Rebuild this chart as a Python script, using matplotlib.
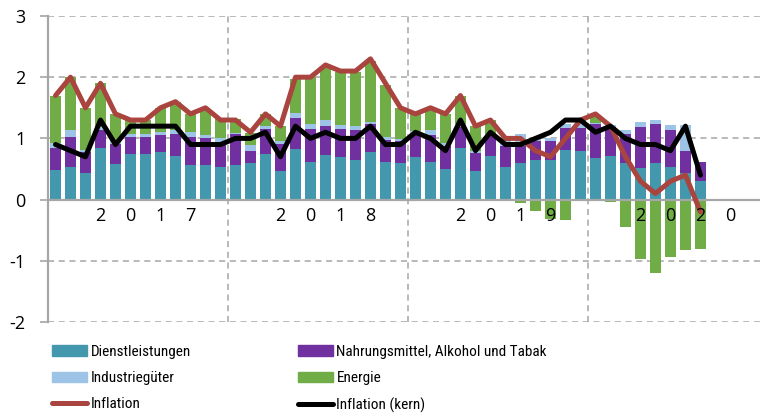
import matplotlib
matplotlib.use("Agg")
import matplotlib.pyplot as plt
from matplotlib.patches import Patch
from matplotlib.lines import Line2D
from matplotlib import font_manager as fm
import numpy as np

years = ["2017", "2018", "2019", "2020"]
services = [0.48,0.54,0.43,0.84,0.58,0.75,0.75,0.77,0.72,0.57,0.57,0.54,
            0.57,0.60,0.75,0.46,0.83,0.62,0.73,0.69,0.64,0.77,0.61,0.60,
            0.69,0.61,0.50,0.85,0.46,0.72,0.53,0.59,0.65,0.65,0.81,0.79,
            0.68,0.72,0.59,0.52,0.59,0.54,0.43,0.31]
food = [0.36,0.49,0.35,0.30,0.33,0.27,0.27,0.28,0.35,0.45,0.43,0.38,
        0.50,0.20,0.41,0.45,0.50,0.53,0.48,0.47,0.50,0.46,0.37,0.36,
        0.38,0.45,0.38,0.33,0.30,0.32,0.35,0.29,0.31,0.31,0.36,0.38,
        0.55,0.46,0.48,0.67,0.64,0.60,0.37,0.31]
goods = [0.09,0.10,0.03,0.05,0.05,0.05,0.06,0.06,0.07,0.09,0.06,0.08,
         0.02,0.09,0.04,0.04,0.09,0.09,0.09,0.06,0.06,0.04,0.04,0.03,
         0.05,0.08,0.04,0.05,0.04,0.04,0.08,0.19,0.03,0.04,0.06,0.11,
         0.02,0.04,0.07,0.07,0.07,0.08,0.42,0.00]
energy = [0.77,0.87,0.69,0.71,0.44,0.23,0.22,0.39,0.45,0.29,0.42,0.32,
          0.23,0.20,0.20,0.25,0.55,0.76,0.86,0.86,0.88,1.00,0.85,0.51,
          0.30,0.36,0.48,0.47,0.40,0.22,0.04,-0.06,-0.19,-0.31,-0.33,0.02,
          0.13,-0.04,-0.45,-0.97,-1.20,-0.93,-0.83,-0.80]
headline = [1.7,2.0,1.5,1.9,1.4,1.3,1.3,1.5,1.6,1.4,1.5,1.3,
            1.3,1.1,1.4,1.2,2.0,2.0,2.2,2.1,2.1,2.3,1.9,1.5,
            1.4,1.5,1.4,1.7,1.2,1.3,1.0,1.0,0.8,0.7,1.0,1.3,
            1.4,1.2,0.7,0.3,0.1,0.3,0.4,-0.2]
core = [0.9,0.8,0.7,1.3,0.9,1.2,1.2,1.2,1.2,0.9,0.9,0.9,
        1.0,1.0,1.1,0.7,1.2,1.0,1.1,1.0,1.0,1.2,0.9,0.9,
        1.1,1.0,0.8,1.3,0.8,1.1,0.9,0.9,1.0,1.1,1.3,1.3,
        1.1,1.2,1.0,0.9,0.9,0.8,1.2,0.4]
labels = ["Dienstleistungen", "Nahrungsmittel, Alkohol und Tabak",
          "Industriegüter", "Energie", "Inflation", "Inflation (kern)"]
yticks = [3, 2, 1, 0, -1, -2]

c_serv = "#4398AE"
c_food = "#7030A0"
c_goods = "#9DC3E6"
c_energy = "#70AD47"
c_infl = "#A9443E"
c_core = "#000000"
grid_c = "#A6A6A6"

# pick a condensed font for the legend if one is installed
def _is_regular(f):
    return f.style == "normal" and str(f.weight) in ("400", "normal", "regular", "book")
cands = [f for f in fm.fontManager.ttflist
         if _is_regular(f) and ("Narrow" in f.name or "Condensed" in f.name
                                or f.stretch in ("condensed", "semi-condensed", "extra-condensed"))]
pref = ["Liberation Sans Narrow", "Roboto Condensed", "Open Sans Condensed", "DejaVu Sans"]
cands.sort(key=lambda f: next((i for i, p in enumerate(pref) if p in f.name), 99))
if cands:
    leg_prop = fm.FontProperties(fname=cands[0].fname, size=11)
else:
    leg_prop = fm.FontProperties(family="Roboto", size=10)

fig = plt.figure(figsize=(7.6, 4.17), dpi=100)
ax = fig.add_axes([48/760, 1-322/417, 1-48/760, (322-16)/417])

n = len(services)
x = np.arange(n)
pos = np.zeros(n)
neg = np.zeros(n)
w = 0.68
for vals, col in [(services, c_serv), (food, c_food), (goods, c_goods), (energy, c_energy)]:
    v = np.array(vals)
    bottoms = np.where(v >= 0, pos, neg)
    ax.bar(x, v, bottom=bottoms, width=w, color=col, zorder=3, linewidth=0)
    pos = pos + np.where(v >= 0, v, 0)
    neg = neg + np.where(v < 0, v, 0)

ax.plot(x, headline, color=c_infl, lw=3.6, zorder=5, solid_joinstyle="round", solid_capstyle="round")
ax.plot(x, core, color=c_core, lw=3.6, zorder=6, solid_joinstyle="round", solid_capstyle="round")

ax.set_xlim(-0.5, 46.97)
ax.set_ylim(-2, 3)
for t in yticks:
    if t == 0:
        ax.axhline(0, color=grid_c, lw=1.6, zorder=4)
    else:
        ax.axhline(t, color=grid_c, lw=1.1, dashes=(4, 3), zorder=1)
for k in range(1, len(years)):
    ax.axvline(12*k - 0.5, color=grid_c, lw=1.1, dashes=(4, 3), zorder=1)

for s in ["top", "right", "bottom"]:
    ax.spines[s].set_visible(False)
ax.spines["left"].set_color(grid_c)
ax.spines["left"].set_linewidth(1.6)
ax.set_yticks(yticks)
ax.set_yticklabels([str(t) for t in yticks], family="Open Sans", fontsize=13)
ax.tick_params(axis="y", length=6, width=1.2, color=grid_c, pad=10)
ax.set_xticks([])

for k, yr in enumerate(years):
    for j, ch in enumerate(yr):
        ax.text(12*k + 3 + 2*j, -0.26, ch, ha="center", va="center",
                fontsize=13, family="Open Sans", zorder=7)

handles = [Patch(color=c_serv), Patch(color=c_goods),
           Line2D([], [], color=c_infl, lw=3.6, solid_capstyle="round"),
           Patch(color=c_food), Patch(color=c_energy),
           Line2D([], [], color=c_core, lw=3.6, solid_capstyle="round")]
leg_labels = [labels[0], labels[2], labels[4], labels[1], labels[3], labels[5]]
fs = leg_prop.get_size_in_points()
leg = fig.legend(handles, leg_labels, ncol=2, loc="upper left",
                 bbox_to_anchor=(52/760, 1-345/417), frameon=False,
                 prop=leg_prop,
                 handlelength=25.5/fs, handleheight=0.7, handletextpad=2.2/fs,
                 columnspacing=8.5, labelspacing=0.8, borderpad=0, borderaxespad=0)

# align right column to the reference position
fig.canvas.draw()
r = fig.canvas.get_renderer()
cols = leg._legend_handle_box.get_children()
if len(cols) == 2:
    bb0 = cols[0].get_window_extent(r)
    gap_px = 298 - bb0.x1
    leg._legend_handle_box.sep = gap_px * 72 / 100

fig.savefig("out.png", dpi=100)
